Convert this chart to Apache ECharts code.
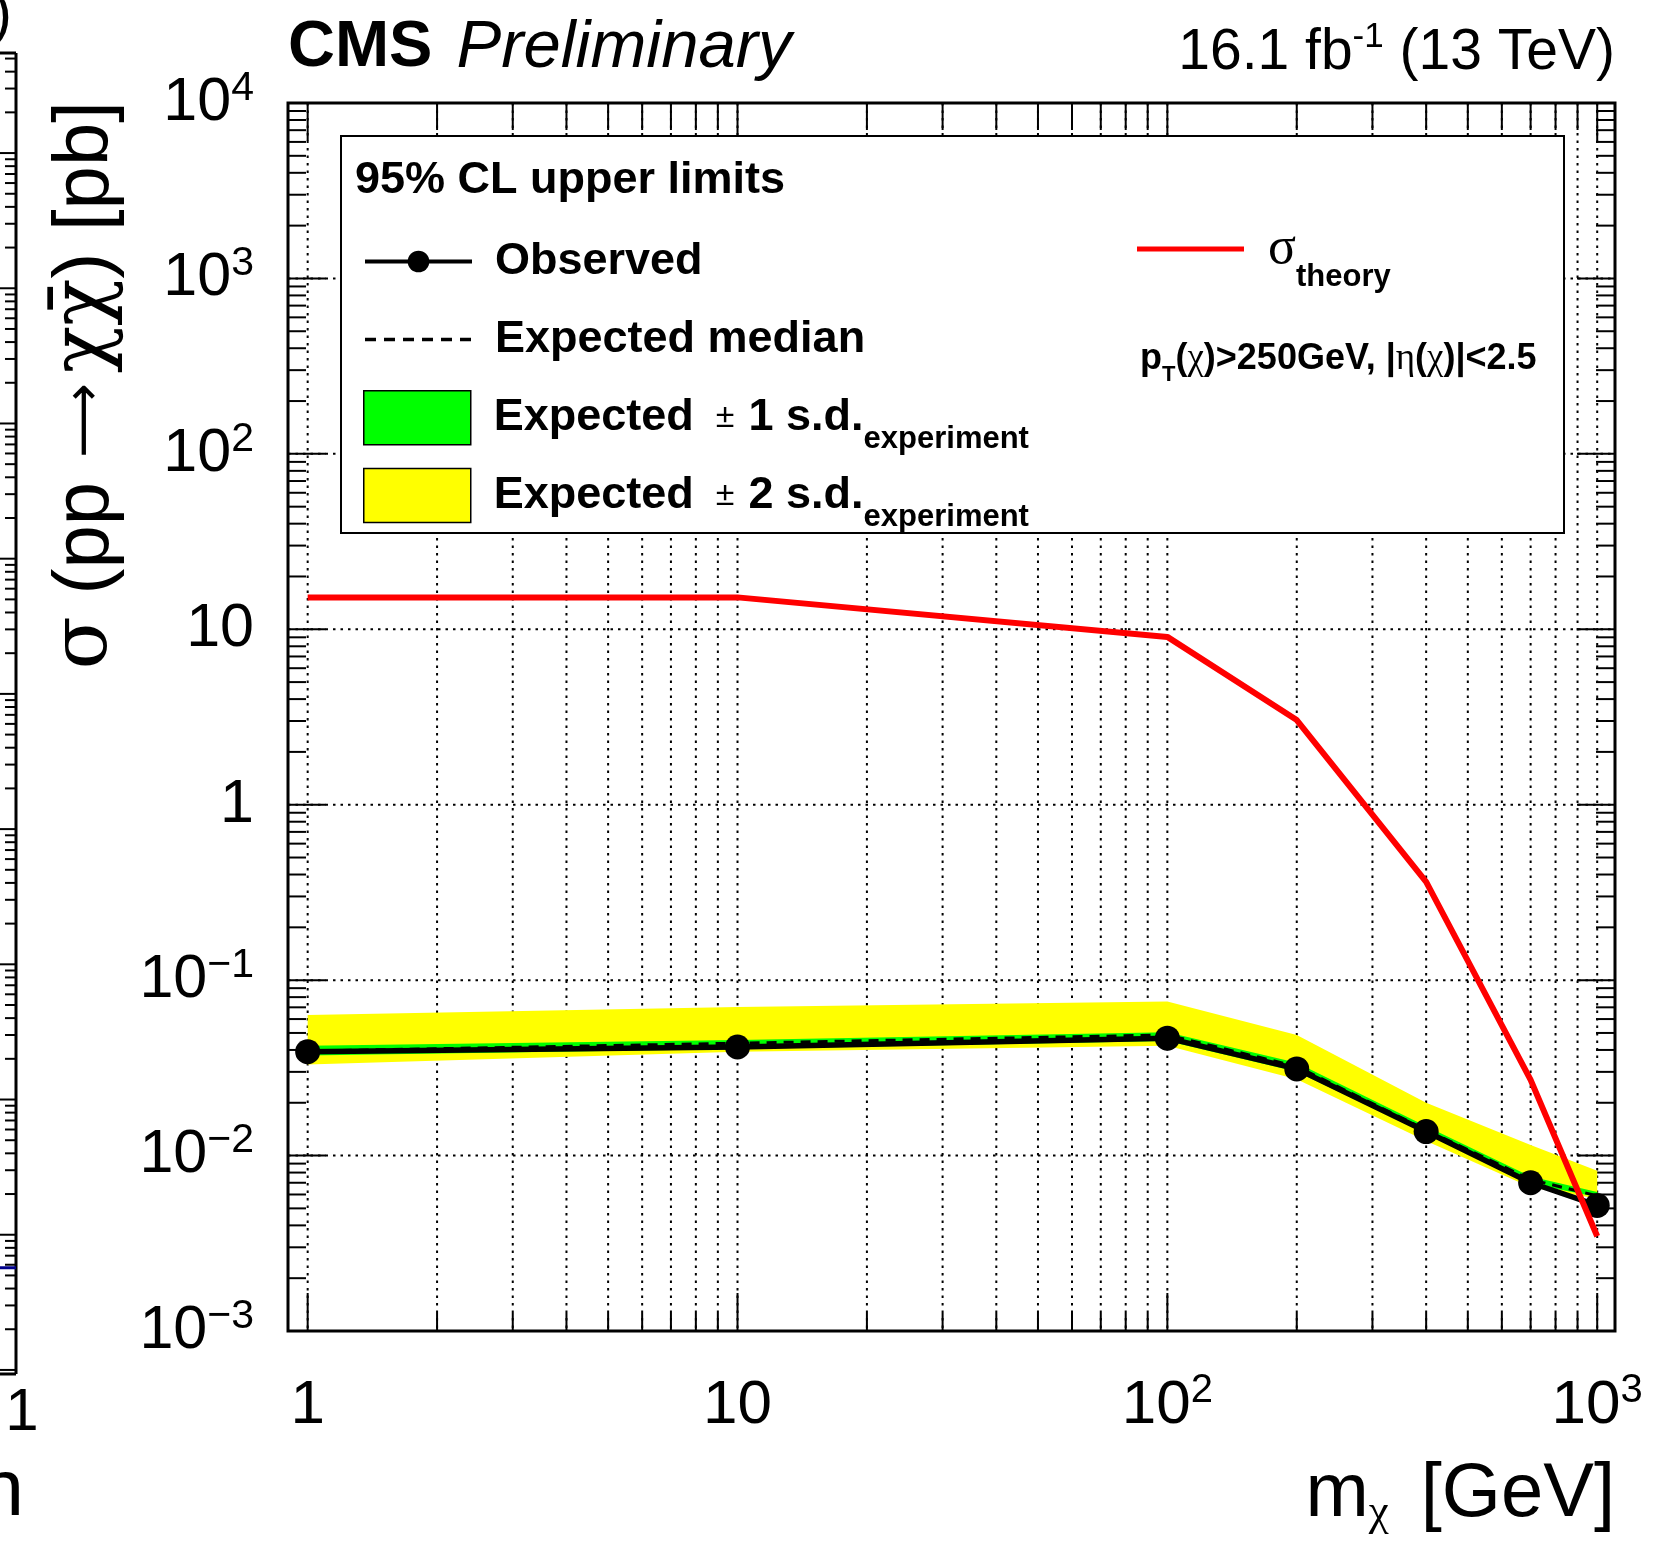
<!DOCTYPE html>
<html>
<head>
<meta charset="utf-8">
<title>CMS Preliminary – 95% CL upper limits on σ(pp → χχ̄)</title>
<script src="https://cdn.jsdelivr.net/npm/echarts@6/dist/echarts.min.js"></script>
<style>
  html, body { margin: 0; padding: 0; background: #fff; }
  #chart { width: 1670px; height: 1550px; }
</style>
</head>
<body>
<div id="chart"></div>
<script>
// Dark-matter mass points [GeV]
const massPoints = [1, 10, 100, 200, 400, 700, 1000];
// 95% CL upper limits on the cross section [pb]
const observedLimit  = [0.0391, 0.0416, 0.0467, 0.0312, 0.0137, 0.0070, 0.0052];
const expectedMedian = [0.0394, 0.0437, 0.0487, 0.0322, 0.0140, 0.0073, 0.0059];
const expected1sLow  = [0.0372, 0.0405, 0.0450, 0.0300, 0.0134, 0.0069, 0.0058];
const expected1sHigh = [0.0422, 0.0456, 0.0505, 0.0338, 0.0147, 0.0076, 0.0062];
const expected2sLow  = [0.0330, 0.0391, 0.0422, 0.0272, 0.0121, 0.0066, 0.0057];
const expected2sHigh = [0.0632, 0.0703, 0.0756, 0.0487, 0.0200, 0.0115, 0.0082];
// Predicted signal cross section [pb]
const theoryXsec     = [15.2, 15.2, 9.05, 3.04, 0.363, 0.0270, 0.00347];

// Axis ranges and tick labels
const xRange = [0.9, 1100];
const yRange = [1e-3, 1e4];
const xLabelValues = [1, 10, 100, 1000];
const xLabelText   = ['1', '10', '10^2', '10^3'];
const yLabelValues = [1e-3, 1e-2, 1e-1, 1, 10, 100, 1000, 1e4];
const yLabelText   = ['10^−3', '10^−2', '10^−1', '1', '10', '10^2', '10^3', '10^4'];
const logSubTicks  = [1, 2, 3, 4, 5, 6, 7, 8, 9];

// Right edge of the neighbouring panel
const sideRange = [Math.pow(10, -0.03), Math.pow(10, 9.74)];
const sideCurveLevel = [[0, 5.7], [1, 5.7]];

const FONT = '"Liberation Sans", Arial, Helvetica, sans-serif';
const GREEK = '"Liberation Serif", "DejaVu Serif", serif';
const GREEK_WIDE = '"DejaVu Serif", "Liberation Serif", serif';

function logTicks(lo, hi) {
  const out = [];
  const e0 = Math.floor(Math.log10(lo)), e1 = Math.ceil(Math.log10(hi));
  for (let e = e0; e <= e1; e++) {
    for (const k of logSubTicks) {
      const v = k * Math.pow(10, e);
      if (v > lo * 1.0001 && v < hi * 0.9999) out.push({ v, major: k === 1 });
    }
  }
  return out;
}
const xTicks = logTicks(xRange[0], xRange[1]);
const yTicks = logTicks(yRange[0], yRange[1]);
const sideTicks = logTicks(sideRange[0], sideRange[1]);

function richPower(txt) {
  const parts = txt.split('^');
  return parts.length > 1 ? '{n|' + parts[0] + '}{sup|' + parts[1] + '}' : '{n|' + parts[0] + '}';
}
function labelFormatter(values, texts) {
  return function (v) {
    const i = values.findIndex(t => Math.abs(Math.log10(v) - Math.log10(t)) < 1e-6);
    return i < 0 ? '' : richPower(texts[i]);
  };
}

// Frame ticks and dotted grid in ROOT style
function renderFrameDecor(params, api) {
  if (params.dataIndex !== 0) return null;
  const cs = params.coordSys;
  const L = cs.x, R = cs.x + cs.width, T = cs.y, B = cs.y + cs.height;
  const dotted = { stroke: '#000', lineWidth: 2, lineDash: [2.5, 5], fill: null };
  const solid = { stroke: '#000', lineWidth: 2, fill: null };
  const els = [];
  for (const t of xTicks) {
    const x = api.coord([t.v, yRange[0]])[0];
    els.push({ type: 'line', shape: { x1: x, y1: T, x2: x, y2: B }, style: dotted });
    els.push({ type: 'line', shape: { x1: x, y1: B, x2: x, y2: B - (t.major ? 38 : 18) }, style: solid });
    els.push({ type: 'line', shape: { x1: x, y1: T, x2: x, y2: T + (t.major ? 38 : 27) }, style: solid });
  }
  for (const t of yTicks) {
    const y = api.coord([xRange[0], t.v])[1];
    if (t.major) els.push({ type: 'line', shape: { x1: L, y1: y, x2: R, y2: y }, style: dotted });
    els.push({ type: 'line', shape: { x1: L, y1: y, x2: L + (t.major ? 38 : 18), y2: y }, style: solid });
    els.push({ type: 'line', shape: { x1: R, y1: y, x2: R - (t.major ? 38 : 19), y2: y }, style: solid });
  }
  return { type: 'group', children: els, silent: true };
}

// Frame edge and ticks of the neighbouring panel
function renderSideFrame(params, api) {
  if (params.dataIndex !== 0) return null;
  const cs = params.coordSys;
  const L = cs.x, R = cs.x + cs.width, T = cs.y, B = cs.y + cs.height;
  const solid = { stroke: '#000', lineWidth: 2, fill: null };
  const els = [
    { type: 'line', shape: { x1: R, y1: T, x2: R, y2: B }, style: { stroke: '#000', lineWidth: 3 } },
    { type: 'line', shape: { x1: L, y1: T, x2: R, y2: T }, style: { stroke: '#000', lineWidth: 3 } },
    { type: 'line', shape: { x1: L, y1: B, x2: R, y2: B }, style: { stroke: '#000', lineWidth: 3 } }
  ];
  for (const t of sideTicks) {
    const y = api.coord([0.5, t.v])[1];
    els.push({ type: 'line', shape: { x1: R, y1: y, x2: R - (t.major ? 22 : 11), y2: y }, style: solid });
  }
  return { type: 'group', children: els, silent: true };
}

// Filled band between two limit curves
function bandRenderer(lower, upper, color) {
  return function (params, api) {
    if (params.dataIndex !== 0) return null;
    const pts = [];
    for (let i = 0; i < massPoints.length; i++) pts.push(api.coord([massPoints[i], upper[i]]));
    for (let i = massPoints.length - 1; i >= 0; i--) pts.push(api.coord([massPoints[i], lower[i]]));
    return { type: 'polygon', shape: { points: pts }, style: { fill: color, stroke: null }, silent: true };
  };
}
function bandData(lower, upper) {
  return massPoints.map((m, i) => [m, lower[i], upper[i]]);
}
function curve(values) {
  return massPoints.map((m, i) => [m, values[i]]);
}

const legendLabels = {
  'Observed': '{e0|Observed}',
  'Expected median': '{e0|Expected median}',
  'Expected ± 1 s.d.': '{e0|Expected}{pm|±}{e|1 s.d.}{sub|experiment}',
  'Expected ± 2 s.d.': '{e0|Expected}{pm|±}{e|2 s.d.}{sub|experiment}',
  'σ theory': '{g|σ}{sub|theory}'
};

const chart = echarts.init(document.getElementById('chart'), null, { renderer: 'canvas' });

chart.setOption({
  animation: false,
  backgroundColor: '#fff',
  grid: [
    { left: 288, top: 103, width: 1327, height: 1228, show: true, borderColor: '#000', borderWidth: 3,
      backgroundColor: 'transparent', containLabel: false, outerBoundsMode: 'none' },
    { left: 0, top: 53, width: 16, height: 1321, show: false, containLabel: false, outerBoundsMode: 'none' }
  ],
  xAxis: [
    {
      type: 'log', logBase: 10, gridIndex: 0, min: xRange[0], max: xRange[1],
      axisLine: { show: false }, axisTick: { show: false }, splitLine: { show: false },
      minorTick: { show: false }, minorSplitLine: { show: false },
      axisLabel: {
        margin: 40, color: '#000',
        formatter: labelFormatter(xLabelValues, xLabelText),
        rich: {
          n: { fontSize: 62, fontFamily: FONT, lineHeight: 70, color: '#000' },
          sup: { fontSize: 40, fontFamily: FONT, lineHeight: 28, verticalAlign: 'top', color: '#000' }
        }
      }
    },
    { type: 'value', gridIndex: 1, min: 0, max: 1, show: false }
  ],
  yAxis: [
    {
      type: 'log', logBase: 10, gridIndex: 0, min: yRange[0], max: yRange[1],
      axisLine: { show: false }, axisTick: { show: false }, splitLine: { show: false },
      minorTick: { show: false }, minorSplitLine: { show: false },
      axisLabel: {
        margin: 34, color: '#000',
        formatter: labelFormatter(yLabelValues, yLabelText),
        rich: {
          n: { fontSize: 61, fontFamily: FONT, lineHeight: 70, color: '#000' },
          sup: { fontSize: 41, fontFamily: FONT, lineHeight: 42, verticalAlign: 'top', color: '#000' }
        }
      }
    },
    { type: 'log', logBase: 10, gridIndex: 1, min: sideRange[0], max: sideRange[1], show: false }
  ],
  legend: [
    {
      data: [
        { name: 'Observed', lineStyle: { width: 4 } },
        { name: 'Expected median', itemStyle: { opacity: 0 }, lineStyle: { width: 3.5, type: [11, 8] } }
      ],
      orient: 'vertical', left: 363, top: 239, padding: 0, itemGap: 33,
      itemWidth: 107, itemHeight: 27, selectedMode: false, z: 60,
      formatter: name => legendLabels[name],
      textStyle: {
        rich: {
          e0: { fontSize: 45, fontWeight: 'bold', fontFamily: FONT, color: '#000', lineHeight: 52, padding: [0, 0, 0, 18] }
        }
      }
    },
    {
      data: [
        { name: 'Expected ± 1 s.d.', icon: 'rect', itemStyle: { borderColor: '#000', borderWidth: 1.5 } },
        { name: 'Expected ± 2 s.d.', icon: 'rect', itemStyle: { borderColor: '#000', borderWidth: 1.5 } }
      ],
      orient: 'vertical', left: 363, top: 390, padding: 0, itemGap: 13,
      itemWidth: 107, itemHeight: 54, selectedMode: false, z: 60,
      formatter: name => legendLabels[name],
      textStyle: {
        rich: {
          e0: { fontSize: 45, fontWeight: 'bold', fontFamily: FONT, color: '#000', lineHeight: 74, padding: [0, 0, 0, 18] },
          e: { fontSize: 45, fontWeight: 'bold', fontFamily: FONT, color: '#000', lineHeight: 74 },
          pm: { fontSize: 34, fontFamily: FONT, color: '#000', lineHeight: 74, padding: [0, 14, 0, 22] },
          sub: { fontSize: 31, fontWeight: 'bold', fontFamily: FONT, color: '#000', lineHeight: 32, verticalAlign: 'bottom' }
        }
      }
    },
    {
      data: [{ name: 'σ theory', icon: 'rect' }],
      orient: 'vertical', left: 1137, top: 223, padding: 0,
      itemWidth: 107, itemHeight: 5, selectedMode: false, z: 60,
      formatter: name => legendLabels[name],
      textStyle: {
        rich: {
          g: { fontSize: 52, fontFamily: GREEK, color: '#000', lineHeight: 88, padding: [0, 0, 0, 19] },
          sub: { fontSize: 31, fontWeight: 'bold', fontFamily: FONT, color: '#000', lineHeight: 30, verticalAlign: 'bottom' }
        }
      }
    }
  ],
  graphic: [
    // legend frame and texts inside it
    { type: 'rect', z: 50, silent: true, shape: { x: 341, y: 136, width: 1223, height: 397 },
      style: { fill: '#fff', stroke: '#000', lineWidth: 2 } },
    { type: 'text', z: 55, x: 355, y: 181, silent: true,
      style: { text: '95% CL upper limits', font: 'bold 45px ' + FONT, fill: '#000', verticalAlign: 'middle' } },
    { type: 'text', z: 55, x: 1140, y: 359, silent: true,
      style: {
        text: '{b|p}{s|T}{b|(}{g|χ}{b|)>250GeV, |}{g|η}{b|(}{g|χ}{b|)|<2.5}',
        verticalAlign: 'middle', fill: '#000',
        rich: {
          b: { fontSize: 36, fontWeight: 'bold', fontFamily: FONT, lineHeight: 54, fill: '#000' },
          s: { fontSize: 22, fontWeight: 'bold', fontFamily: FONT, lineHeight: 10, verticalAlign: 'bottom', fill: '#000' },
          g: { fontSize: 37, fontFamily: GREEK, lineHeight: 54, fill: '#000' }
        }
      } },
    // header
    { type: 'text', x: 288, y: 48, silent: true,
      style: {
        text: '{c|CMS}{p|Preliminary}', verticalAlign: 'middle',
        rich: {
          c: { fontSize: 65, fontWeight: 'bold', fontFamily: FONT, fill: '#000' },
          p: { fontSize: 67, fontStyle: 'italic', fontFamily: FONT, fill: '#000', padding: [0, 0, 0, 24] }
        }
      } },
    { type: 'text', x: 1615, y: 53, silent: true,
      style: {
        text: '{r|16.1 fb}{sup|-1}{r| (13 TeV)}', align: 'right', verticalAlign: 'middle',
        rich: {
          r: { fontSize: 57, fontFamily: FONT, lineHeight: 66, fill: '#000' },
          sup: { fontSize: 35, fontFamily: FONT, lineHeight: 34, verticalAlign: 'top', fill: '#000' }
        }
      } },
    // axis titles
    { type: 'text', x: 1615, y: 1495, silent: true,
      style: {
        text: '{a|m}{g|χ}{b|[GeV]}', align: 'right', verticalAlign: 'middle',
        rich: {
          a: { fontSize: 76, fontFamily: FONT, lineHeight: 82, fill: '#000' },
          g: { fontSize: 45, fontFamily: GREEK, lineHeight: 30, verticalAlign: 'bottom', fill: '#000' },
          b: { fontSize: 76, fontFamily: FONT, lineHeight: 82, fill: '#000', padding: [0, 0, 0, 32] }
        }
      } },
    { type: 'text', x: 86, y: 101, rotation: Math.PI / 2, silent: true,
      style: {
        text: '{g|σ}{a| (pp}{r|⟶}{g|χχ̄}{a|) [pb]}', align: 'right', verticalAlign: 'middle',
        rich: {
          a: { fontSize: 78, fontFamily: FONT, lineHeight: 86, fill: '#000' },
          r: { fontSize: 52, fontFamily: '"DejaVu Sans", sans-serif', lineHeight: 86, fill: '#000', padding: [0, 10, 0, 24] },
          g: { fontSize: 78, fontFamily: GREEK_WIDE, lineHeight: 86, fill: '#000' }
        }
      } },
    // labels of the neighbouring panel
    { type: 'text', x: -8, y: 16, silent: true,
      style: { text: ')', font: '60px ' + FONT, fill: '#000', verticalAlign: 'middle' } },
    { type: 'text', x: 22, y: 1413, silent: true,
      style: { text: '1', font: '60px ' + FONT, fill: '#000', align: 'center', verticalAlign: 'middle' } },
    { type: 'text', x: 24, y: 1493, silent: true,
      style: { text: 'n', font: '80px ' + FONT, fill: '#000', align: 'right', verticalAlign: 'middle' } }
  ],
  series: [
    {
      name: 'frame', type: 'custom', xAxisIndex: 0, yAxisIndex: 0, z: 1, silent: true,
      data: [[1, 1]], encode: { x: 0, y: 1 }, renderItem: renderFrameDecor
    },
    {
      name: 'Expected ± 2 s.d.', type: 'custom', xAxisIndex: 0, yAxisIndex: 0, z: 2,
      itemStyle: { color: '#ffff00' },
      data: bandData(expected2sLow, expected2sHigh), encode: { x: 0, y: [1, 2] },
      renderItem: bandRenderer(expected2sLow, expected2sHigh, '#ffff00')
    },
    {
      name: 'Expected ± 1 s.d.', type: 'custom', xAxisIndex: 0, yAxisIndex: 0, z: 2,
      itemStyle: { color: '#00ff00' },
      data: bandData(expected1sLow, expected1sHigh), encode: { x: 0, y: [1, 2] },
      renderItem: bandRenderer(expected1sLow, expected1sHigh, '#00ff00')
    },
    {
      name: 'Expected median', type: 'line', xAxisIndex: 0, yAxisIndex: 0, z: 3,
      data: curve(expectedMedian), symbol: 'none',
      itemStyle: { color: '#000' },
      lineStyle: { color: '#000', width: 3, type: [10, 7] }
    },
    {
      name: 'Observed', type: 'line', xAxisIndex: 0, yAxisIndex: 0, z: 4,
      data: curve(observedLimit), symbol: 'circle', symbolSize: 25,
      itemStyle: { color: '#000' },
      lineStyle: { color: '#000', width: 5.5 }
    },
    {
      name: 'σ theory', type: 'line', xAxisIndex: 0, yAxisIndex: 0, z: 5,
      data: curve(theoryXsec), symbol: 'none',
      itemStyle: { color: '#ff0000' },
      lineStyle: { color: '#ff0000', width: 6 }
    },
    {
      name: 'side frame', type: 'custom', xAxisIndex: 1, yAxisIndex: 1, z: 1, silent: true,
      data: [[0.5, 1]], encode: { x: 0, y: 1 }, renderItem: renderSideFrame
    },
    {
      name: 'side curve', type: 'line', xAxisIndex: 1, yAxisIndex: 1, z: 2, silent: true,
      data: sideCurveLevel, symbol: 'none',
      lineStyle: { color: '#00008b', width: 3 }
    }
  ]
});
</script>
</body>
</html>
